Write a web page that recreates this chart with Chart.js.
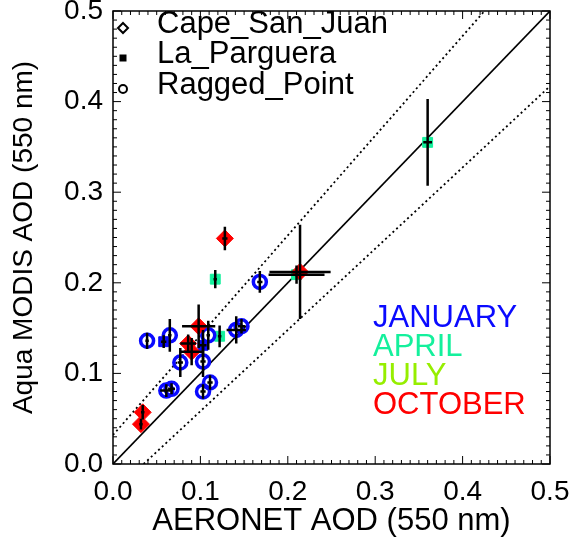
<!DOCTYPE html>
<html>
<head>
<meta charset="utf-8">
<script src="https://cdn.jsdelivr.net/npm/chart.js@4.4.0/dist/chart.umd.min.js"></script>
<style>
  html, body { margin: 0; padding: 0; background: #fff; }
</style>
</head>
<body>
<canvas id="aod" width="575" height="540"></canvas>
<script>
// each row: [AERONET AOD, MODIS AOD, AERONET error, MODIS error]
const capeSanJuanOct = [
  [0.128, 0.249, 0.003, 0.013],
  [0.098, 0.152, 0.019, 0.024],
  [0.086, 0.133, 0.009, 0.010],
  [0.090, 0.124, 0.014, 0.015],
  [0.034, 0.057, 0.002, 0.008],
  [0.032, 0.044, 0.002, 0.006],
  [0.214, 0.212, 0.035, 0.052]
];
const laParguerJan = [
  [0.058, 0.135, 0.003, 0.007],
  [0.103, 0.131, 0.004, 0.017]
];
const laParguerApr = [
  [0.117, 0.204, 0.002, 0.010],
  [0.122, 0.141, 0.002, 0.012],
  [0.210, 0.209, 0.032, 0.010],
  [0.360, 0.355, 0.005, 0.048]
];
const raggedPointJan = [
  [0.168, 0.201, 0.003, 0.012],
  [0.039, 0.136, 0.002, 0.009],
  [0.065, 0.142, 0.002, 0.018],
  [0.109, 0.142, 0.002, 0.016],
  [0.141, 0.148, 0.011, 0.015],
  [0.147, 0.152, 0.004, 0.008],
  [0.077, 0.112, 0.003, 0.016],
  [0.103, 0.113, 0.003, 0.017],
  [0.061, 0.081, 0.007, 0.007],
  [0.067, 0.083, 0.004, 0.006],
  [0.111, 0.090, 0.003, 0.008],
  [0.103, 0.080, 0.003, 0.008]
];

// reference lines (end points)
const oneToOne = [[0, 0], [0.5, 0.5]];
const upperEnvelope = [[0, 0.032], [0.425, 0.5]];
const lowerEnvelope = [[0.035, 0], [0.5, 0.417]];

const siteNames = ["Cape_San_Juan", "La_Parguera", "Ragged_Point"];
const monthNames = ["JANUARY", "APRIL", "JULY", "OCTOBER"];
const monthColors = ["#0a0aff", "#14f09c", "#96ee00", "#ff0000"];

const FONT = "'Liberation Sans', Arial, Helvetica, sans-serif";

const toPts = rows => rows.map(r => ({ x: r[0], y: r[1] }));

function refLine(pairs, dash) {
  return {
    data: toPts(pairs),
    showLine: true,
    borderColor: "#000",
    borderWidth: dash.length ? 1.8 : 1.6,
    borderDash: dash,
    pointRadius: 0,
    order: 10
  };
}

function markers(rows, style, color, filled, radius, order) {
  return {
    data: toPts(rows),
    rows: rows,
    pointStyle: style,
    pointRadius: radius,
    pointBorderWidth: filled ? 1 : 3.5,
    pointBorderColor: color,
    pointBackgroundColor: filled ? color : "rgba(0,0,0,0)",
    order: order
  };
}

// black error bars over the markers
const errorBars = {
  id: "errorBars",
  afterDatasetsDraw(chart) {
    const { ctx, scales: { x, y } } = chart;
    ctx.save();
    ctx.strokeStyle = "#000";
    ctx.lineWidth = 2.5;
    chart.data.datasets.forEach(ds => {
      if (!ds.rows) return;
      ds.rows.forEach(([vx, vy, ex, ey]) => {
        const cx = x.getPixelForValue(vx);
        const cy = y.getPixelForValue(vy);
        ctx.beginPath();
        ctx.moveTo(x.getPixelForValue(vx - ex), cy);
        ctx.lineTo(x.getPixelForValue(vx + ex), cy);
        ctx.moveTo(cx, y.getPixelForValue(vy - ey));
        ctx.lineTo(cx, y.getPixelForValue(vy + ey));
        ctx.stroke();
      });
    });
    ctx.restore();
  }
};

// box, inward ticks, and the two in-plot legends
const frame = {
  id: "frame",
  afterDraw(chart) {
    const { ctx, chartArea: a, scales: { x, y } } = chart;
    ctx.save();
    ctx.strokeStyle = "#000";
    ctx.lineWidth = 1.5;
    ctx.strokeRect(a.left, a.top, a.right - a.left, a.bottom - a.top);

    ctx.lineWidth = 1;
    ctx.beginPath();
    for (let i = 0; i <= 50; i++) {
      const v = i / 100;
      const len = i % 10 === 0 ? 8 : 4;
      const px = x.getPixelForValue(v);
      const py = y.getPixelForValue(v);
      ctx.moveTo(px, a.bottom); ctx.lineTo(px, a.bottom - len);
      ctx.moveTo(px, a.top); ctx.lineTo(px, a.top + len);
      ctx.moveTo(a.left, py); ctx.lineTo(a.left + len, py);
      ctx.moveTo(a.right, py); ctx.lineTo(a.right - len, py);
    }
    ctx.stroke();

    // site legend
    ctx.font = "31px " + FONT;
    ctx.textBaseline = "middle";
    ctx.textAlign = "left";
    ctx.fillStyle = "#000";
    const sx = a.left + 10;
    const rowY = [a.top + 13, a.top + 43, a.top + 74];
    siteNames.forEach((name, i) => {
      const sy = rowY[i] + 4;
      ctx.lineWidth = 2;
      ctx.beginPath();
      if (i === 0) {
        ctx.moveTo(sx, sy - 5); ctx.lineTo(sx + 5, sy);
        ctx.lineTo(sx, sy + 5); ctx.lineTo(sx - 5, sy);
        ctx.closePath();
        ctx.stroke();
      } else if (i === 1) {
        ctx.fillRect(sx - 3.5, sy - 3.5, 7, 7);
      } else {
        ctx.arc(sx, sy, 4, 0, Math.PI * 2);
        ctx.stroke();
      }
      ctx.fillText(name, a.left + 44, rowY[i]);
    });

    // month legend
    ctx.font = "31px " + FONT;
    const my = [318, 347, 376, 405];
    monthNames.forEach((m, i) => {
      ctx.fillStyle = monthColors[i];
      ctx.fillText(m, 373, my[i]);
    });
    ctx.restore();
  }
};

new Chart(document.getElementById("aod"), {
  type: "scatter",
  data: {
    datasets: [
      refLine(oneToOne, []),
      refLine(upperEnvelope, [2, 3]),
      refLine(lowerEnvelope, [2, 3]),
      markers(laParguerApr, "rect", monthColors[1], true, 7, 4),
      markers(raggedPointJan, "circle", monthColors[0], false, 6.5, 3),
      markers(laParguerJan, "rect", monthColors[0], true, 7, 2),
      markers(capeSanJuanOct, "rectRot", monthColors[3], true, 8.5, 1)
    ]
  },
  options: {
    responsive: false,
    animation: false,
    layout: { padding: { left: 0, right: 25, top: 11, bottom: 0 } },
    plugins: { legend: { display: false }, tooltip: { enabled: false } },
    scales: {
      x: {
        type: "linear",
        min: 0,
        max: 0.5,
        grid: { display: false, drawTicks: false },
        border: { display: false },
        ticks: {
          stepSize: 0.1,
          padding: 11,
          color: "#000",
          maxRotation: 0,
          autoSkip: false,
          font: { family: FONT, size: 28 },
          callback: v => v.toFixed(1)
        },
        title: {
          display: true,
          text: "AERONET AOD (550 nm)",
          color: "#000",
          font: { family: FONT, size: 31 },
          padding: { top: 0, bottom: 0 }
        },
        afterFit(s) { s.height = 76; s.paddingLeft = 0; s.paddingRight = 0; }
      },
      y: {
        type: "linear",
        min: 0,
        max: 0.5,
        grid: { display: false, drawTicks: false },
        border: { display: false },
        ticks: {
          stepSize: 0.1,
          padding: 10,
          color: "#000",
          autoSkip: false,
          font: { family: FONT, size: 28 },
          callback: v => v.toFixed(1)
        },
        title: {
          display: true,
          text: "Aqua MODIS AOD (550 nm)",
          color: "#000",
          font: { family: FONT, size: 28 },
          padding: { top: 7, bottom: 0 }
        },
        afterFit(s) { s.width = 113; s.paddingTop = 0; s.paddingBottom = 0; }
      }
    }
  },
  plugins: [errorBars, frame]
});
</script>
</body>
</html>
